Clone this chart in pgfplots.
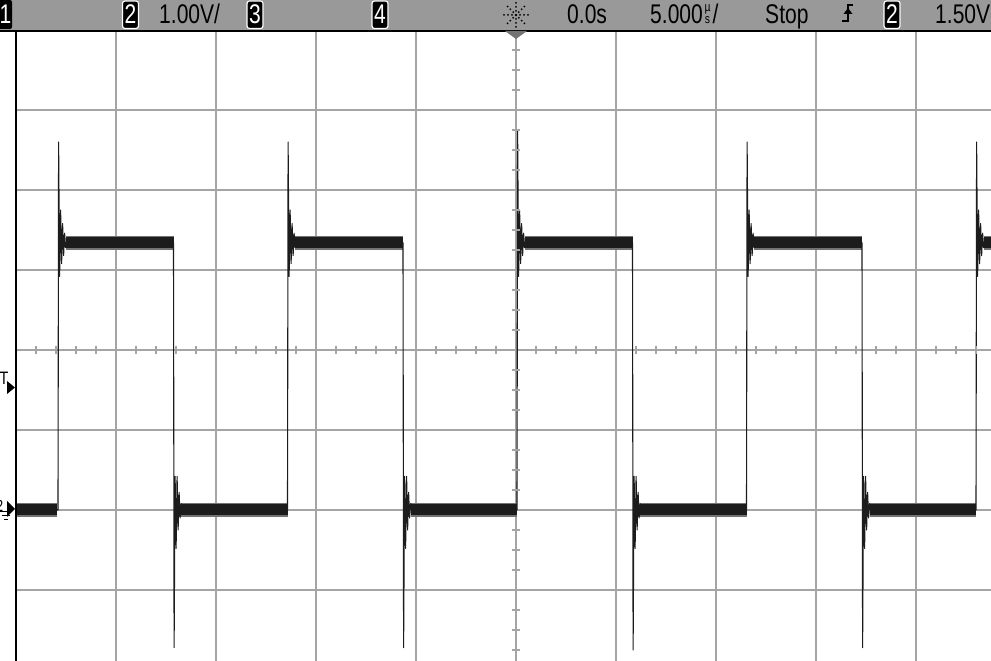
\documentclass[border=0pt]{standalone}
\usepackage{pgfplots}
\pgfplotsset{compat=1.18}
\usetikzlibrary{calc}
\usepackage{fontspec}
\setmainfont{Liberation Sans}
\definecolor{bargray}{RGB}{153,153,153}
\definecolor{gridgray}{RGB}{165,165,165}
\definecolor{sig}{RGB}{28,28,28}
\newcommand{\bt}[1]{\scalebox{0.78}[1]{\fontsize{27}{29}\selectfont #1}}
\begin{document}
\begin{tikzpicture}[x=1pt,y=1pt]
\useasboundingbox (0,0) rectangle (991,661);
\fill[white] (0,0) rectangle (991,661);
\begin{axis}[at={(16pt,0pt)}, anchor=south west, scale only axis,
  width=975pt, height=631pt,
  xmin=-25, xmax=23.75, ymin=-1.8875, ymax=6,
  axis line style={draw=none},
  xtick={-20,-15,-10,-5,0,5,10,15,20}, ytick={-1,0,1,2,3,4,5},
  grid=major, major grid style={gridgray, line width=1.2pt},
  tick style={draw=none}, xticklabel=\empty, yticklabel=\empty,
  unbounded coords=jump]
% minor ticks on centre lines
\addplot[only marks, mark=|, mark size=4pt, gridgray, mark options={line width=1.2pt}] coordinates {
(-24,2) (-23,2) (-22,2) (-21,2) (-19,2) (-18,2) (-17,2) (-16,2) (-14,2) (-13,2) (-12,2) (-11,2)
(-9,2) (-8,2) (-7,2) (-6,2) (-4,2) (-3,2) (-2,2) (-1,2) (1,2) (2,2) (3,2) (4,2)
(6,2) (7,2) (8,2) (9,2) (11,2) (12,2) (13,2) (14,2) (16,2) (17,2) (18,2) (19,2) (21,2) (22,2) (23,2)};
\addplot[only marks, mark=-, mark size=4pt, gridgray, mark options={line width=1.2pt}] coordinates {
(0,-1.75) (0,-1.5) (0,-1.25) (0,-0.75) (0,-0.5) (0,-0.25)
(0,0.25) (0,0.5) (0,0.75) (0,1.25) (0,1.5) (0,1.75)
(0,2.25) (0,2.5) (0,2.75) (0,3.25) (0,3.5) (0,3.75)
(0,4.25) (0,4.5) (0,4.75) (0,5.25) (0,5.5) (0,5.75)};
% noise band (levels)
\addplot[black!55, line width=14pt, line cap=butt] coordinates {
(-25,0) (-22.95,0) (-22.9,nan)
(-22.5,3.34) (-17.125,3.34) (-17,nan)
(-16.75,0) (-11.425,0) (-11.4,nan)
(-11.03,3.34) (-5.65,3.34) (-5.6,nan)
(-5.25,0) (0.05,0) (0.1,nan)
(0.45,3.34) (5.825,3.34) (5.9,nan)
(6.22,0) (11.525,0) (11.6,nan)
(11.92,3.34) (17.3,3.34) (17.4,nan)
(17.7,0) (23.0,0) (23.1,nan)
(23.4,3.34) (23.75,3.34)};
\addplot[sig, line width=11pt, line cap=butt] coordinates {
(-25,0) (-22.95,0) (-22.9,nan)
(-22.5,3.34) (-17.125,3.34) (-17,nan)
(-16.75,0) (-11.425,0) (-11.4,nan)
(-11.03,3.34) (-5.65,3.34) (-5.6,nan)
(-5.25,0) (0.05,0) (0.1,nan)
(0.45,3.34) (5.825,3.34) (5.9,nan)
(6.22,0) (11.525,0) (11.6,nan)
(11.92,3.34) (17.3,3.34) (17.4,nan)
(17.7,0) (23.0,0) (23.1,nan)
(23.4,3.34) (23.75,3.34)};
% signal with edges and ringing
\addplot[sig, line width=1.1pt, line join=round] coordinates {
(-25,0) (-22.9,0)
(-22.87,4.6) (-22.82,2.92) (-22.77,3.75) (-22.72,3.08) (-22.67,3.58) (-22.62,3.18) (-22.57,3.46) (-22.52,3.28) (-22.47,3.34)
(-17.125,3.34) (-17.095,-1.72) (-17.045,0.42) (-16.995,-0.48) (-16.945,0.42) (-16.895,-0.25) (-16.845,0.22) (-16.795,-0.1) (-16.745,0.08) (-16.695,0)
(-11.425,0) (-11.395,4.6) (-11.345,2.92) (-11.295,3.75) (-11.245,3.08) (-11.195,3.58) (-11.145,3.18) (-11.095,3.46) (-11.045,3.28) (-10.995,3.34)
(-5.65,3.34) (-5.62,-1.72) (-5.57,0.42) (-5.52,-0.48) (-5.47,0.42) (-5.42,-0.25) (-5.37,0.22) (-5.32,-0.1) (-5.27,0.08) (-5.22,0)
(0.05,0) (0.08,4.75) (0.13,2.92) (0.18,3.75) (0.23,3.08) (0.28,3.58) (0.33,3.18) (0.38,3.46) (0.43,3.28) (0.48,3.34)
(5.825,3.34) (5.855,-1.75) (5.905,0.42) (5.955,-0.48) (6.005,0.42) (6.055,-0.25) (6.105,0.22) (6.155,-0.1) (6.205,0.08) (6.255,0)
(11.525,0) (11.555,4.6) (11.605,2.92) (11.655,3.75) (11.705,3.08) (11.755,3.58) (11.805,3.18) (11.855,3.46) (11.905,3.28) (11.955,3.34)
(17.3,3.34) (17.33,-1.72) (17.38,0.42) (17.43,-0.48) (17.48,0.42) (17.53,-0.25) (17.58,0.22) (17.63,-0.1) (17.68,0.08) (17.73,0)
(23.0,0) (23.03,4.6) (23.08,2.92) (23.13,3.75) (23.18,3.08) (23.23,3.58) (23.28,3.18) (23.33,3.46) (23.38,3.28) (23.43,3.34) (23.75,3.34)};
\end{axis}
% left border
\draw[black, line width=1.5pt] (16,0) -- (16,631);
% top status bar
\fill[bargray] (0,630) rectangle (991,661);
\draw[black, line width=1.2pt] (0,630) -- (991,630);
% channel boxes
\fill[black, rounded corners=2pt] (-4,632) rectangle (12,661);
\node[white, anchor=base, inner sep=0] at (5.5,637.5) {\bt{1}};
\foreach \cx/\lab in {130.5/2, 255/3, 380/4, 892/2} {
  \filldraw[fill=black, draw=white, line width=1.2pt, rounded corners=2.5pt] (\cx-8,632.5) rectangle (\cx+8,660);
  \node[white, anchor=base, inner sep=0] at (\cx,637.5) {\bt{\lab}};
}
\node[anchor=base west, inner sep=0] at (159,637.5) {\bt{1.00V/}};
\node[anchor=base west, inner sep=0] at (567,637.5) {\bt{0.0s}};
\node[anchor=base west, inner sep=0] at (650,637.5) {\bt{5.000}};
\node[anchor=base, inner sep=0] at (707.5,649.5) {\scalebox{0.8}[1]{\fontsize{13}{13}\selectfont µ}};
\node[anchor=base, inner sep=0] at (707.5,637.5) {\scalebox{0.8}[1]{\fontsize{13}{13}\selectfont s}};
\node[anchor=base west, inner sep=0] at (712.5,637.5) {\bt{/}};
\node[anchor=base west, inner sep=0] at (765,637.5) {\bt{Stop}};
\node[anchor=base west, inner sep=0] at (935,637.5) {\bt{1.50V}};
% trigger edge symbol
\draw[black, line width=2pt] (842,639.5) -- (848,639.5) -- (848,656) -- (853,656);
\fill[black] (843.5,647) -- (852.5,647) -- (848,653) -- cycle;
% acquisition sparkle
\foreach \a in {0,45,...,315} {
  \foreach \r in {4,8,12} {
    \fill[black] ($(516,646)+(\a:\r)$) circle (1pt);
  }
}
\fill[black] (516,646) circle (1.4pt);
% time reference triangle
\fill[black!55] (505,630) -- (527,630) -- (516,622) -- cycle;
% trigger level marker
\node[anchor=base west, inner sep=0] at (-0.5,276) {\scalebox{0.8}[1]{\fontsize{18}{18}\selectfont T}};
\fill[black] (7,280) -- (7,267) -- (15,273.5) -- cycle;
% channel 2 ground marker
\node[anchor=base west, inner sep=0] at (-4,149) {\scalebox{0.8}[1]{\fontsize{16}{16}\selectfont 2}};
\fill[black] (7,160) -- (7,144) -- (15,152) -- cycle;
\draw[black, line width=1pt] (0,149.5) -- (12,149.5);
\draw[black, line width=1pt] (2,145) -- (10,145);
\draw[black, line width=1pt] (4,141) -- (8,141);
\end{tikzpicture}
\end{document}
